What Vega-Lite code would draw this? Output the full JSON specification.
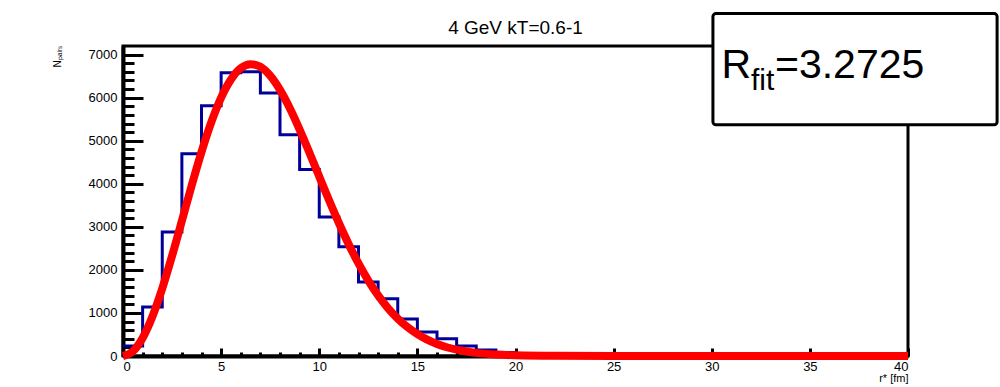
{
  "$schema": "https://vega.github.io/schema/vega-lite/v6.json",
  "width": 785,
  "height": 310,
  "autosize": "none",
  "padding": {"left": 123, "top": 46, "right": 92, "bottom": 31},
  "background": "white",
  "config": {
    "view": {"stroke": "black", "strokeWidth": 3},
    "font": "Liberation Sans",
    "axis": {"grid": false, "domainColor": "black", "domainWidth": 4, "tickColor": "black", "tickWidth": 3, "labelColor": "black", "labelFont": "Liberation Sans", "labelFontSize": 13, "titleFont": "Liberation Sans", "titleFontWeight": "normal", "titleColor": "black", "labelOverlap": false}
  },
  "title": {"text": "4 GeV kT=0.6-1", "fontSize": 19, "font": "Liberation Sans", "fontWeight": "normal", "color": "black", "anchor": "middle", "baseline": "bottom", "offset": -45},
  "resolve": {"axis": {"x": "independent", "y": "independent"}},
  "datasets": {
    "hist": [
      {"r": 0, "n": 230}, {"r": 1, "n": 1140}, {"r": 2, "n": 2880}, {"r": 3, "n": 4700},
      {"r": 4, "n": 5810}, {"r": 5, "n": 6580}, {"r": 6, "n": 6600}, {"r": 7, "n": 6110},
      {"r": 8, "n": 5140}, {"r": 9, "n": 4330}, {"r": 10, "n": 3230}, {"r": 11, "n": 2540},
      {"r": 12, "n": 1720}, {"r": 13, "n": 1330}, {"r": 14, "n": 860}, {"r": 15, "n": 560},
      {"r": 16, "n": 400}, {"r": 17, "n": 230}, {"r": 18, "n": 140}, {"r": 19, "n": 80},
      {"r": 20, "n": 40}, {"r": 21, "n": 20}, {"r": 22, "n": 10}, {"r": 23, "n": 5},
      {"r": 24, "n": 0}, {"r": 25, "n": 0}, {"r": 26, "n": 0}, {"r": 27, "n": 0},
      {"r": 28, "n": 0}, {"r": 29, "n": 0}, {"r": 30, "n": 0}, {"r": 31, "n": 0},
      {"r": 32, "n": 0}, {"r": 33, "n": 0}, {"r": 34, "n": 0}, {"r": 35, "n": 0},
      {"r": 36, "n": 0}, {"r": 37, "n": 0}, {"r": 38, "n": 0}, {"r": 39, "n": 0},
      {"r": 40, "n": 0}
    ],
    "fit": [
      {"r": 0, "f": 0}, {"r": 0.5, "f": 107}, {"r": 1, "f": 420}, {"r": 1.5, "f": 918},
      {"r": 2, "f": 1568}, {"r": 2.5, "f": 2324}, {"r": 3, "f": 3138}, {"r": 3.5, "f": 3960},
      {"r": 4, "f": 4738}, {"r": 4.5, "f": 5430}, {"r": 5, "f": 6000}, {"r": 5.5, "f": 6423},
      {"r": 6, "f": 6684}, {"r": 6.5, "f": 6779}, {"r": 7, "f": 6716}, {"r": 7.5, "f": 6510},
      {"r": 8, "f": 6181}, {"r": 8.5, "f": 5755}, {"r": 9, "f": 5260}, {"r": 9.5, "f": 4722},
      {"r": 10, "f": 4167}, {"r": 10.5, "f": 3617}, {"r": 11, "f": 3089}, {"r": 11.5, "f": 2596},
      {"r": 12, "f": 2149}, {"r": 12.5, "f": 1752}, {"r": 13, "f": 1407}, {"r": 13.5, "f": 1113},
      {"r": 14, "f": 869}, {"r": 14.5, "f": 668}, {"r": 15, "f": 507}, {"r": 15.5, "f": 379},
      {"r": 16, "f": 280}, {"r": 16.5, "f": 204}, {"r": 17, "f": 146}, {"r": 17.5, "f": 104},
      {"r": 18, "f": 72}, {"r": 19, "f": 34}, {"r": 20, "f": 15}, {"r": 22, "f": 3},
      {"r": 25, "f": 0}, {"r": 30, "f": 0}, {"r": 35, "f": 0}, {"r": 40, "f": 0}
    ],
    "box": [{"label": "R_fit=3.2725"}]
  },
  "layer": [
    {
      "data": {"name": "hist"},
      "mark": {"type": "line", "interpolate": "step-after", "color": "#000099", "strokeWidth": 3},
      "encoding": {
        "x": {"field": "r", "type": "quantitative", "scale": {"domain": [0, 40], "nice": false},
          "axis": {
            "values": [0,1,2,3,4,5,6,7,8,9,10,11,12,13,14,15,16,17,18,19,20,21,22,23,24,25,26,27,28,29,30,31,32,33,34,35,36,37,38,39,40],
            "format": "d",
            "labelExpr": "datum.value % 5 === 0 ? datum.label : ''",
            "tickSize": {"condition": {"test": "datum.value % 5 === 0", "value": -8}, "value": -4},
            "labelPadding": 12,
            "title": "r* [fm]", "titleFontSize": 11, "titleAnchor": "end", "titleAlign": "right", "titleBaseline": "alphabetic", "titleX": 785, "titleY": 25
          }},
        "y": {"field": "n", "type": "quantitative", "scale": {"domain": [0, 7200], "nice": false},
          "axis": {
            "values": [0,200,400,600,800,1000,1200,1400,1600,1800,2000,2200,2400,2600,2800,3000,3200,3400,3600,3800,4000,4200,4400,4600,4800,5000,5200,5400,5600,5800,6000,6200,6400,6600,6800,7000],
            "format": "d",
            "labelExpr": "datum.value % 1000 === 0 ? datum.label : ''",
            "tickSize": {"condition": {"test": "datum.value % 1000 === 0", "value": -20}, "value": -11},
            "labelPadding": 26,
            "title": "Nₚₐᵢᵣₛ", "titleFontSize": 10, "titleAngle": -90, "titleAlign": "right", "titleBaseline": "middle", "titleX": -66, "titleY": -1
          }}
      }
    },
    {
      "data": {"name": "fit"},
      "mark": {"type": "line", "interpolate": "monotone", "color": "#ff0000", "strokeWidth": 8},
      "encoding": {
        "x": {"field": "r", "type": "quantitative", "axis": null},
        "y": {"field": "f", "type": "quantitative", "axis": null}
      }
    },
    {
      "data": {"name": "box"},
      "mark": {"type": "rect", "fill": "white", "stroke": "black", "strokeWidth": 3, "cornerRadius": 3},
      "encoding": {
        "x": {"datum": 30.06, "type": "quantitative", "axis": null},
        "x2": {"datum": 44.54},
        "y": {"datum": 7953, "type": "quantitative", "axis": null},
        "y2": {"datum": 5372}
      }
    },
    {
      "data": {"name": "box"},
      "mark": {"type": "text", "align": "left", "baseline": "alphabetic", "fontSize": 41, "font": "Liberation Sans", "color": "black"},
      "encoding": {
        "x": {"datum": 30.5, "type": "quantitative", "axis": null},
        "y": {"datum": 6457, "type": "quantitative", "axis": null},
        "text": {"value": "R"}
      }
    },
    {
      "data": {"name": "box"},
      "mark": {"type": "text", "align": "left", "baseline": "alphabetic", "fontSize": 30, "font": "Liberation Sans", "color": "black"},
      "encoding": {
        "x": {"datum": 32.0, "type": "quantitative", "axis": null},
        "y": {"datum": 6178, "type": "quantitative", "axis": null},
        "text": {"value": "fit"}
      }
    },
    {
      "data": {"name": "box"},
      "mark": {"type": "text", "align": "left", "baseline": "alphabetic", "fontSize": 41, "font": "Liberation Sans", "color": "black"},
      "encoding": {
        "x": {"datum": 33.22, "type": "quantitative", "axis": null},
        "y": {"datum": 6457, "type": "quantitative", "axis": null},
        "text": {"value": "=3.2725"}
      }
    }
  ]
}
